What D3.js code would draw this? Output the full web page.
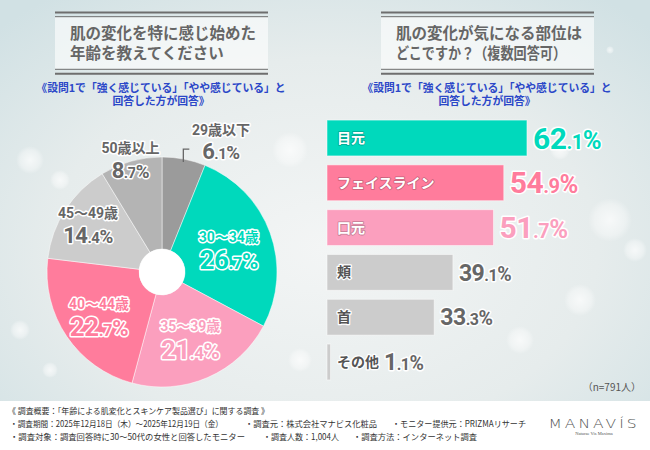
<!DOCTYPE html>
<html>
<head>
<meta charset="utf-8">
<script src="https://cdn.jsdelivr.net/npm/d3@7"></script>
<style>
  body { margin: 0; }
  svg { display: block; }
</style>
</head>
<body>
<svg id="chart" width="650" height="450"></svg>
<script>
// age when skin change was first noticed (pie)
const ageLabels = ["29歳以下", "30～34歳", "35～39歳", "40～44歳", "45～49歳", "50歳以上"];
const agePct = [6.1, 26.7, 21.4, 22.7, 14.4, 8.7];
const ageColors = ["#9b9b9b", "#00d9bc", "#fb9fbe", "#ff7c9c", "#cccccc", "#b4b4b4"];

// body parts (bars)
const partLabels = ["目元", "フェイスライン", "口元", "頬", "首", "その他"];
const partPct = [62.1, 54.9, 51.7, 39.1, 33.3, 1.1];
const partColors = ["#00d9bc", "#ff7c9c", "#fb9fbe", "#cccccc", "#cccccc", "#cccccc"];

const leftTitle = ["肌の変化を特に感じ始めた", "年齢を教えてください"];
const rightTitle = ["肌の変化が気になる部位は", "どこですか？（複数回答可）"];
const subNote = ["《設問1で「強く感じている」「やや感じている」と", "回答した方が回答》"];
const sampleNote = "（n=791人）";

const footerLines = [
  [["《 調査概要：「年齢による肌変化とスキンケア製品選び」に関する調査 》", 8, 261]],
  [["・調査期間：2025年12月18日（木）～2025年12月19日（金）", 10, 213],
   ["・調査元：株式会社マナビス化粧品", 245, 132],
   ["・モニター提供元：PRIZMAリサーチ", 392, 134]],
  [["・調査対象：調査回答時に30～50代の女性と回答したモニター", 10, 235],
   ["・調査人数：1,004人", 263, 76],
   ["・調査方法：インターネット調査", 353, 124]]
];

const JP = "'Noto Sans CJK JP', sans-serif";
const NUM = "Roboto, 'Noto Sans CJK JP', sans-serif";
const W = 650, H = 450;
const svg = d3.select("#chart");
const defs = svg.append("defs");

// background
const bg = defs.append("radialGradient").attr("id", "bg")
  .attr("cx", "50%").attr("cy", "55%").attr("r", "70%");
bg.append("stop").attr("offset", "0%").attr("stop-color", "#f3f5f5");
bg.append("stop").attr("offset", "60%").attr("stop-color", "#e6ecec");
bg.append("stop").attr("offset", "100%").attr("stop-color", "#d1e1e4");
svg.append("rect").attr("width", W).attr("height", H).attr("fill", "url(#bg)");

const bokeh = defs.append("radialGradient").attr("id", "bokeh");
bokeh.append("stop").attr("offset", "0%").attr("stop-color", "#fff").attr("stop-opacity", 0.7);
bokeh.append("stop").attr("offset", "70%").attr("stop-color", "#fff").attr("stop-opacity", 0.35);
bokeh.append("stop").attr("offset", "100%").attr("stop-color", "#fff").attr("stop-opacity", 0);
[[30, 160, 14], [60, 180, 10], [290, 150, 18], [610, 220, 22], [635, 250, 12], [580, 300, 16],
 [20, 330, 10], [50, 370, 8], [610, 50, 4], [520, 340, 14], [300, 360, 12], [560, 150, 10]]
  .forEach(([cx, cy, r]) => {
    svg.append("circle").attr("cx", cx).attr("cy", cy).attr("r", r).attr("fill", "url(#bokeh)");
  });

// footer band
svg.append("rect").attr("x", 0).attr("y", 401).attr("width", W).attr("height", 49).attr("fill", "#ffffff");

function titleBox(x, w, lines, fitLast) {
  const g = svg.append("g");
  g.append("rect").attr("x", x).attr("y", 17).attr("width", w).attr("height", 52)
    .attr("fill", "#ffffff").attr("fill-opacity", 0.6);
  [[12.5, 2], [16.7, 1], [69.3, 1], [73.8, 2]].forEach(([y, sw]) => {
    g.append("line").attr("x1", x).attr("x2", x + w).attr("y1", y).attr("y2", y)
      .attr("stroke", "#6e6e6e").attr("stroke-width", sw);
  });
  const t = g.append("text").attr("font-family", JP).attr("font-weight", 700)
    .attr("font-size", 15.5).attr("fill", "#666666");
  lines.forEach((s, i) => {
    const ts = t.append("tspan").attr("x", x + 15).attr("y", 39 + i * 19.5).text(s);
    if (fitLast && i === lines.length - 1) ts.attr("textLength", fitLast).attr("lengthAdjust", "spacingAndGlyphs");
  });
}
function note(cx) {
  const t = svg.append("text").attr("text-anchor", "middle")
    .attr("font-family", JP).attr("font-weight", 700).attr("font-size", 10.8)
    .attr("fill", "#2b47c8");
  subNote.forEach((s, i) => {
    t.append("tspan").attr("x", cx).attr("y", 92 + i * 13).text(s);
  });
}
titleBox(55, 213, leftTitle);
titleBox(381, 213, rightTitle, 170);
note(161);
note(487);

function pctText(g, v, big, small, x, y, anchor) {
  const [ip, dp] = v.toFixed(1).split(".");
  const t = g.append("text").attr("x", x).attr("y", y).attr("text-anchor", anchor)
    .attr("font-family", NUM).attr("font-weight", 700).attr("letter-spacing", -0.5);
  t.append("tspan").attr("font-size", big).text(ip);
  t.append("tspan").attr("font-size", small).text("." + dp);
  t.append("tspan").attr("font-size", big * 0.85).text("%");
  return t;
}
function halo(t, fill, stroke, sw) {
  t.attr("fill", fill).attr("stroke", stroke).attr("stroke-width", sw)
    .attr("stroke-linejoin", "round").attr("paint-order", "stroke");
}

// ---- pie ----
const cx = 162, cy = 272, R = 115, r0 = 23;
const pie = d3.pie().sort(null).value(d => d)(agePct);
const arc = d3.arc().innerRadius(r0).outerRadius(R);
const pg = svg.append("g").attr("transform", `translate(${cx},${cy})`);
pg.selectAll("path").data(pie).join("path")
  .attr("d", arc)
  .attr("fill", (d, i) => ageColors[i])
  .attr("stroke", "#ffffff").attr("stroke-opacity", 0.6).attr("stroke-width", 0.8);
pg.append("circle").attr("r", r0).attr("fill", "#ffffff");

// label radius per slice (outer ones sit beyond the rim); first label is pushed round to the right
const labelR = [144, 71, 71, 76, 88, 117];
const labelShift = [0.23, 0, 0, 0, 0, 0];
const colored = [false, true, true, true, false, false];
pie.forEach((d, i) => {
  const a = (d.startAngle + d.endAngle) / 2 + labelShift[i];
  const lx = Math.sin(a) * labelR[i], ly = -Math.cos(a) * labelR[i];
  const big = colored[i] ? 26 : 22, small = colored[i] ? 17 : 15;
  const fill = colored[i] ? ageColors[i] : "#666666";
  const t1 = pg.append("text").attr("x", lx).attr("y", ly - 6).attr("text-anchor", "middle")
    .attr("font-family", NUM).attr("font-weight", 700).attr("font-size", 14).text(ageLabels[i]);
  halo(t1, fill, "#ffffff", 3);
  const t2 = pctText(pg, agePct[i], big, small, lx, ly + big * 0.71 + 3, "middle");
  halo(t2, fill, "#ffffff", 3);
});

// leader for the small top slice
{
  const a = (pie[0].startAngle + pie[0].endAngle) / 2;
  const px = Math.sin(a) * (R - 3), py = -Math.cos(a) * (R - 3);
  pg.append("path").attr("d", `M${px},${py}V${py - 13}H${px + 6}`)
    .attr("fill", "none").attr("stroke", "#666666").attr("stroke-width", 1.3);
}

// ---- bars ----
const x = d3.scaleLinear().domain([0, 100]).range([327, 649]);
const y = d3.scaleBand().domain(partLabels).range([115.6, 384.4]).paddingInner(0.2).paddingOuter(0.1);
const bg2 = svg.append("g");
bg2.selectAll("rect").data(partPct).join("rect")
  .attr("x", x(0)).attr("y", (d, i) => y(partLabels[i]))
  .attr("width", d => x(d) - x(0)).attr("height", y.bandwidth())
  .attr("fill", (d, i) => partColors[i])
  .attr("stroke", "#ffffff").attr("stroke-opacity", 0.5).attr("stroke-width", 1);

partPct.forEach((v, i) => {
  const c = y(partLabels[i]) + y.bandwidth() / 2;
  const isColor = i < 3;
  const lab = bg2.append("text").attr("x", 337).attr("y", c + 5)
    .attr("font-family", JP).attr("font-weight", 700).attr("font-size", 14)
    .text(partLabels[i]);
  if (isColor) halo(lab, "#ffffff", d3.color(partColors[i]).darker(0.7), 1.6);
  else halo(lab, "#555555", "#ffffff", 2.5);
  const labEnd = 337 + lab.node().getComputedTextLength();
  const vx = Math.max(x(v) + 6, labEnd + 5);
  const big = isColor ? 30 : 23, small = isColor ? 20 : 16;
  const t = pctText(bg2, v, big, small, vx, c + big * 0.355, "start");
  halo(t, isColor ? partColors[i] : "#666666", "#ffffff", 3);
});

svg.append("text").attr("x", 641).attr("y", 391).attr("text-anchor", "end")
  .attr("font-family", JP).attr("font-size", 10).attr("fill", "#555555").text(sampleNote);

// ---- footer ----
footerLines.forEach((segs, li) => {
  segs.forEach(([t, fx, len]) => {
    svg.append("text").attr("x", fx).attr("y", 414 + li * 13)
      .attr("font-family", JP).attr("font-size", 8.5).attr("fill", "#333333")
      .attr("textLength", len).attr("lengthAdjust", "spacingAndGlyphs").text(t);
  });
});
svg.append("text").attr("x", 594).attr("y", 428).attr("text-anchor", "middle")
  .attr("font-family", "'DejaVu Sans', sans-serif").attr("font-weight", 300).attr("font-size", 13)
  .attr("letter-spacing", 2.5).attr("fill", "#555555").attr("textLength", 91)
  .attr("lengthAdjust", "spacingAndGlyphs").text("MANAVÍS");
svg.append("text").attr("x", 594).attr("y", 435).attr("text-anchor", "middle")
  .attr("font-family", "'Liberation Serif', serif").attr("font-size", 4.5)
  .attr("fill", "#555555").text("Naturae Vis Maxima");
</script>
</body>
</html>
